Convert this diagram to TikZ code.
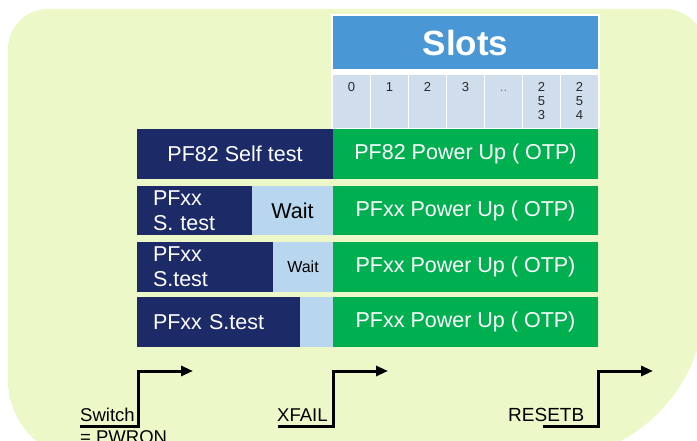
\documentclass[tikz,border=0pt]{standalone}
\usepackage{fontspec}
\setmainfont{Liberation Sans}
\usetikzlibrary{arrows.meta}
\definecolor{bggreen}{RGB}{236,248,200}
\definecolor{navyc}{RGB}{28,43,104}
\definecolor{greenc}{RGB}{0,176,80}
\definecolor{waitc}{RGB}{184,214,238}
\definecolor{hdrc}{RGB}{74,151,213}
\definecolor{cellc}{RGB}{208,221,237}
\definecolor{digitc}{RGB}{40,40,40}
\begin{document}
\begin{tikzpicture}[x=1pt,y=-1pt,
  box/.style={rectangle, inner sep=0pt, outer sep=0pt, anchor=north west},
  navy/.style={box, fill=navyc, text=white},
  green/.style={box, fill=greenc, text=white, font=\fontsize{21.5}{25}\selectfont},
  waitbox/.style={box, fill=waitc, text=black},
  hdr/.style={box, fill=hdrc, text=white, font=\fontsize{35}{38}\selectfont\bfseries},
  cell/.style={box, fill=cellc, minimum width=37pt, minimum height=53pt},
  digit/.style={anchor=north, inner sep=0pt, align=center, text=digitc,
    font=\fontsize{13}{14}\selectfont},
  sig/.style={line width=3pt, -{Triangle[length=12pt,width=10pt]}},
  siglabel/.style={inner sep=0pt, align=left, font=\fontsize{18.5}{22}\selectfont}]
\useasboundingbox (0,0) rectangle (697,441);
\clip (0,0) rectangle (697,441);

% rounded backdrop
\fill[bggreen] (8,49) arc[start angle=180,end angle=270,radius=40]
  -- (665,9) arc[start angle=270,end angle=360,radius=40]
  -- (705,300) arc[start angle=0,end angle=90,radius=160]
  -- (88,460) arc[start angle=90,end angle=180,radius=80] -- cycle;

% slot table
\fill[white] (331,14) rectangle (600,130);
\node[hdr, minimum width=265pt, minimum height=53pt] (slots) at (333,16) {Slots};
\foreach \i/\t in {0/0,1/1,2/2,3/3,4/{\vphantom{0}\textcolor{gray}{..}},5/{2\\5\\3},6/{2\\5\\4}} {
  \node[cell] (c\i) at (333+38*\i,75) {};
  \node[digit] (d\i) at ([yshift=-7.5pt]c\i.north) {\t};
}

% row 1
\node[navy, minimum width=196pt, minimum height=50pt,
  font=\fontsize{21.5}{25}\selectfont] (r1a) at (137,129) {PF82 Self test};
\node[green, minimum width=265pt, minimum height=50pt] (r1b) at (333,129) {PF82 Power Up ( OTP)};

% row 2
\node[navy, minimum width=115pt, minimum height=49pt, inner xsep=16pt,
  text width=83pt, align=left, font=\fontsize{21.5}{25}\selectfont] (r2a) at (137,186) {PFxx\\S. test};
\node[waitbox, minimum width=81pt, minimum height=49pt,
  font=\fontsize{21.5}{25}\selectfont] (r2w) at (252,186) {Wait};
\node[green, minimum width=265pt, minimum height=49pt] (r2b) at (333,186) {PFxx Power Up ( OTP)};

% row 3
\node[navy, minimum width=136pt, minimum height=50pt, inner xsep=16pt,
  text width=104pt, align=left, font=\fontsize{21.5}{25}\selectfont] (r3a) at (137,242) {PFxx\\S.test};
\node[waitbox, minimum width=60pt, minimum height=50pt,
  font=\fontsize{16}{19}\selectfont] (r3w) at (273,242) {Wait};
\node[green, minimum width=265pt, minimum height=50pt] (r3b) at (333,242) {PFxx Power Up ( OTP)};

% row 4
\node[navy, minimum width=163pt, minimum height=50pt, inner xsep=16pt,
  text width=131pt, align=left, font=\fontsize{21.5}{25}\selectfont] (r4a) at (137,297) {PFxx S.test};
\node[waitbox, minimum width=33pt, minimum height=50pt] (r4w) at (300,297) {};
\node[green, minimum width=265pt, minimum height=50pt] (r4b) at (333,297) {PFxx Power Up ( OTP)};

% signal edges
\node[siglabel, anchor=base west] (swlab) at (80,421) {Switch};
\node[siglabel, anchor=base west] (swlab2) at (80,443) {= PWRON};
\node[siglabel, anchor=base west] (xflab) at (277,421) {XFAIL};
\node[siglabel, anchor=base west, font=\fontsize{19}{22}\selectfont] (rslab) at (508,421) {RESETB};

\coordinate (s1a) at (80,426);  \coordinate (s1b) at (138,426);
\coordinate (s1c) at (138,371); \coordinate (s1d) at (193,371);
\coordinate (s2a) at (278,426); \coordinate (s2b) at (333,426);
\coordinate (s2c) at (333,371); \coordinate (s2d) at (388,371);
\coordinate (s3a) at (543,426); \coordinate (s3b) at (598,426);
\coordinate (s3c) at (598,371); \coordinate (s3d) at (653,371);
\draw[sig] (s1a) -- (s1b) -- (s1c) -- (s1d);
\draw[sig] (s2a) -- (s2b) -- (s2c) -- (s2d);
\draw[sig] (s3a) -- (s3b) -- (s3c) -- (s3d);
\end{tikzpicture}
\end{document}
